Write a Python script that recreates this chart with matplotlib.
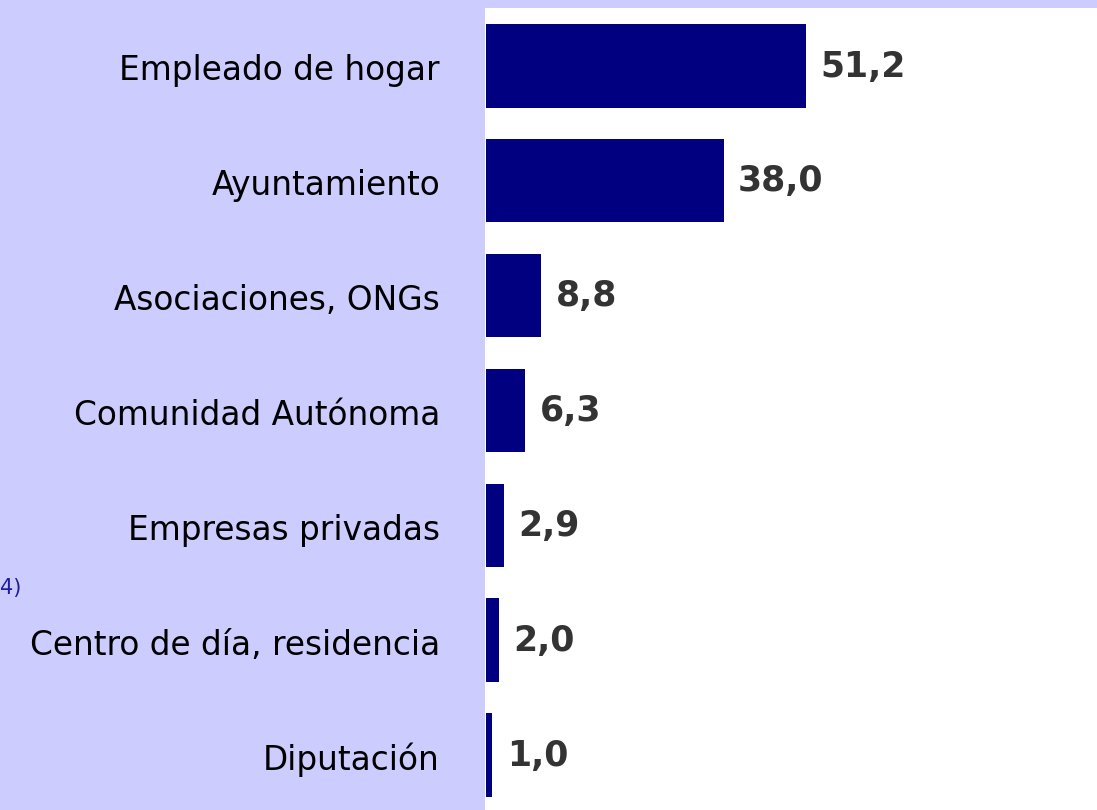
import matplotlib
matplotlib.use("Agg")
import matplotlib.pyplot as plt
from matplotlib.transforms import ScaledTranslation

categories = ["Empleado de hogar", "Ayuntamiento", "Asociaciones, ONGs",
              "Comunidad Autónoma", "Empresas privadas",
              "Centro de día, residencia", "Diputación"]
values = [51.2, 38.0, 8.8, 6.3, 2.9, 2.0, 1.0]
value_labels = ["51,2", "38,0", "8,8", "6,3", "2,9", "2,0", "1,0"]

W, H = 1097, 810
fig = plt.figure(figsize=(W / 100, H / 100), dpi=100)
fig.patch.set_facecolor("#CCCCFF")

ax = fig.add_axes([485 / W, 0, (W - 485) / W, (H - 8) / H])
ax.set_facecolor("white")
pos = list(range(len(categories)))
ax.barh(pos, values, height=0.725, color="#000080", left=0)
ax.set_xlim(-0.16, (W - 486) / 6.25)
ax.set_ylim(6.48, -0.505)
for s in ax.spines.values():
    s.set_visible(False)
ax.set_xticks([])
ax.set_yticks([])

lab_tr = ax.get_yaxis_transform() + ScaledTranslation(-45 / 100, -5 / 100, fig.dpi_scale_trans)
for p, c in zip(pos, categories):
    ax.text(0, p, c, transform=lab_tr, ha="right", va="center",
            fontsize=23.6, color="black", family="DejaVu Sans", clip_on=False)

for p, v, lab in zip(pos, values, value_labels):
    ax.annotate(lab, xy=(v, p), xytext=(10.5, -0.5), textcoords="offset points",
                ha="left", va="center", fontsize=25, fontweight="bold",
                color="#333333", family="DejaVu Sans")

fig.text(0, 1 - 588 / H, "4)", color="#1E1EA0", fontsize=15,
         ha="left", va="center")

fig.savefig("out.png", dpi=100, facecolor=fig.get_facecolor())
